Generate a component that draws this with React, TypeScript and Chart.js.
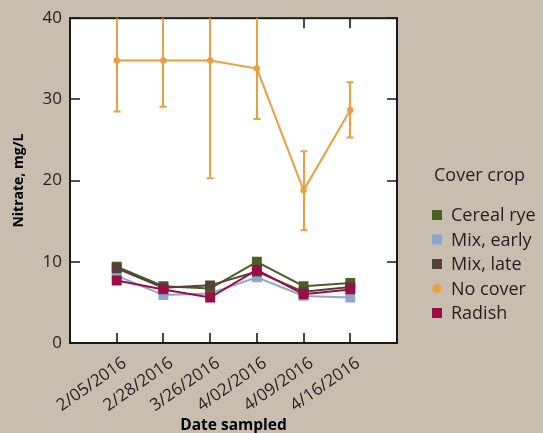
import React, { useEffect, useRef } from 'react';
import { Chart, registerables } from 'chart.js';

Chart.register(...registerables);

const dates = ['2/05/2016', '2/28/2016', '3/26/2016', '4/02/2016', '4/09/2016', '4/16/2016'];
const cerealRye = [9.4, 7.0, 6.7, 10.0, 7.0, 7.4];
const mixEarly = [8.3, 5.9, 6.1, 8.1, 5.8, 5.6];
const mixLate = [9.2, 6.8, 7.1, 8.8, 6.3, 6.9];
const noCover = [34.8, 34.8, 34.8, 33.8, 18.8, 28.7];
const noCoverLow = [28.5, 29.1, 20.3, 27.6, 13.9, 25.3];
const noCoverHigh = [41.1, 40.5, 49.3, 40.3, 23.6, 32.1];
const radish = [7.7, 6.6, 5.6, 9.0, 6.0, 6.6];
const yTicks = [0, 10, 20, 30, 40];

const seriesNames = ['Cereal rye', 'Mix, early', 'Mix, late', 'No cover', 'Radish'];
const seriesColors = ['#4b5e24', '#8ea6cf', '#574039', '#e8a040', '#9b0d44'];

const BG = '#c8beb0';
const FONT = "'Open Sans', sans-serif";
const INK = '#231f20';

const framePlugin = {
  id: 'frame',
  beforeDraw(chart: any) {
    const { ctx, chartArea: a } = chart;
    ctx.save();
    ctx.fillStyle = '#ffffff';
    ctx.fillRect(a.left, a.top, a.right - a.left, a.bottom - a.top);
    ctx.restore();
  },
  beforeDatasetsDraw(chart: any) {
    const { ctx, chartArea: a, scales } = chart;
    const xs = scales.x;
    const ys = scales.y;
    ctx.save();
    ctx.strokeStyle = '#1a1a1a';
    ctx.lineWidth = 2;
    ctx.strokeRect(a.left, a.top, a.right - a.left, a.bottom - a.top);
    ctx.lineWidth = 1.6;
    ctx.beginPath();
    dates.forEach((_, i) => {
      const px = Math.round(xs.getPixelForValue(i));
      ctx.moveTo(px, a.bottom);
      ctx.lineTo(px, a.bottom - 10);
      ctx.moveTo(px, a.top);
      ctx.lineTo(px, a.top + 10);
    });
    yTicks.forEach((v) => {
      const py = Math.round(ys.getPixelForValue(v));
      ctx.moveTo(a.left, py);
      ctx.lineTo(a.left + 10, py);
      ctx.moveTo(a.right, py);
      ctx.lineTo(a.right - 10, py);
    });
    ctx.stroke();

    // error bars for No cover
    ctx.beginPath();
    ctx.rect(a.left, a.top, a.right - a.left, a.bottom - a.top);
    ctx.clip();
    ctx.strokeStyle = seriesColors[3];
    ctx.lineWidth = 2;
    ctx.beginPath();
    noCover.forEach((_, i) => {
      const px = Math.round(xs.getPixelForValue(i));
      const lo = ys.getPixelForValue(noCoverLow[i]);
      const hi = ys.getPixelForValue(noCoverHigh[i]);
      ctx.moveTo(px, lo);
      ctx.lineTo(px, hi);
      ctx.moveTo(px - 3.5, lo);
      ctx.lineTo(px + 3.5, lo);
      ctx.moveTo(px - 3.5, hi);
      ctx.lineTo(px + 3.5, hi);
    });
    ctx.stroke();
    ctx.restore();
  },
  afterDraw(chart: any) {
    const { ctx } = chart;
    ctx.save();
    ctx.fillStyle = INK;
    ctx.textBaseline = 'middle';
    ctx.textAlign = 'left';
    ctx.font = `18px ${FONT}`;
    ctx.fillText('Cover crop', 434, 176);
    seriesNames.forEach((name, i) => {
      const y = 215 + i * 24.5;
      ctx.fillStyle = seriesColors[i];
      if (name === 'No cover') {
        ctx.beginPath();
        ctx.arc(437, y, 4.5, 0, Math.PI * 2);
        ctx.fill();
      } else {
        ctx.fillRect(432, y - 5, 10, 10);
      }
      ctx.fillStyle = INK;
      ctx.fillText(name, 451, y + 1);
    });
    ctx.restore();
  },
};

function pts(arr: number[]) {
  return arr.map((y, i) => ({ x: i, y }));
}

export default function App() {
  const ref = useRef<HTMLCanvasElement>(null);
  useEffect(() => {
    document.body.style.margin = '0';
    document.body.style.background = BG;
    const sq = (i: number, order: number) => ({
      label: seriesNames[i],
      data: pts([cerealRye, mixEarly, mixLate, noCover, radish][i]),
      borderColor: seriesColors[i],
      backgroundColor: seriesColors[i],
      borderWidth: 2,
      pointStyle: 'rect',
      pointRadius: 7,
      pointBorderWidth: 0,
      tension: 0,
      order,
    });
    const chart = new Chart(ref.current as HTMLCanvasElement, {
      type: 'line',
      data: {
        datasets: [
          sq(0, 3),
          sq(1, 4),
          sq(2, 2),
          {
            label: seriesNames[3],
            data: pts(noCover),
            borderColor: seriesColors[3],
            backgroundColor: seriesColors[3],
            borderWidth: 2,
            pointStyle: 'circle',
            pointRadius: 3.2,
            pointBorderWidth: 0,
            tension: 0,
            order: 1,
          },
          sq(4, 0),
        ] as any,
      },
      plugins: [framePlugin],
      options: {
        animation: false,
        responsive: false,
        devicePixelRatio: 1,
        layout: { padding: { top: 16, right: 146, left: 0, bottom: 0 } },
        plugins: { legend: { display: false }, tooltip: { enabled: false } },
        scales: {
          x: {
            type: 'linear',
            min: -1,
            max: 6,
            afterBuildTicks: (s: any) => {
              s.ticks = dates.map((_, i) => ({ value: i }));
            },
            afterFit: (s: any) => {
              s.height = 90;
            },
            ticks: {
              callback: (v: any) => dates[v] ?? '',
              minRotation: 35,
              maxRotation: 35,
              autoSkip: false,
              padding: 10,
              labelOffset: 8,
              font: { family: FONT, size: 17 },
              color: INK,
            },
            grid: { display: false, drawTicks: false },
            border: { display: false },
            title: {
              display: true,
              text: 'Date sampled',
              font: { family: FONT, size: 15.5, weight: 'bold', lineHeight: 1 },
              color: '#000',
              padding: { top: 0, bottom: 0 },
            },
          },
          y: {
            min: 0,
            max: 40,
            afterBuildTicks: (s: any) => {
              s.ticks = yTicks.map((v) => ({ value: v }));
            },
            afterFit: (s: any) => {
              s.width = 70;
            },
            ticks: { padding: 8, font: { family: FONT, size: 17 }, color: INK },
            grid: { display: false, drawTicks: false },
            border: { display: false },
            title: {
              display: true,
              text: 'Nitrate, mg/L',
              font: { family: FONT, size: 14, weight: 'bold', lineHeight: 1.2 },
              color: '#000',
              padding: { top: 11, bottom: 0 },
            },
          },
        },
      } as any,
    });
    return () => chart.destroy();
  }, []);
  return (
    <div style={{ width: 543, height: 433, background: BG }}>
      <canvas ref={ref} width={543} height={433} style={{ display: 'block' }} />
    </div>
  );
}
